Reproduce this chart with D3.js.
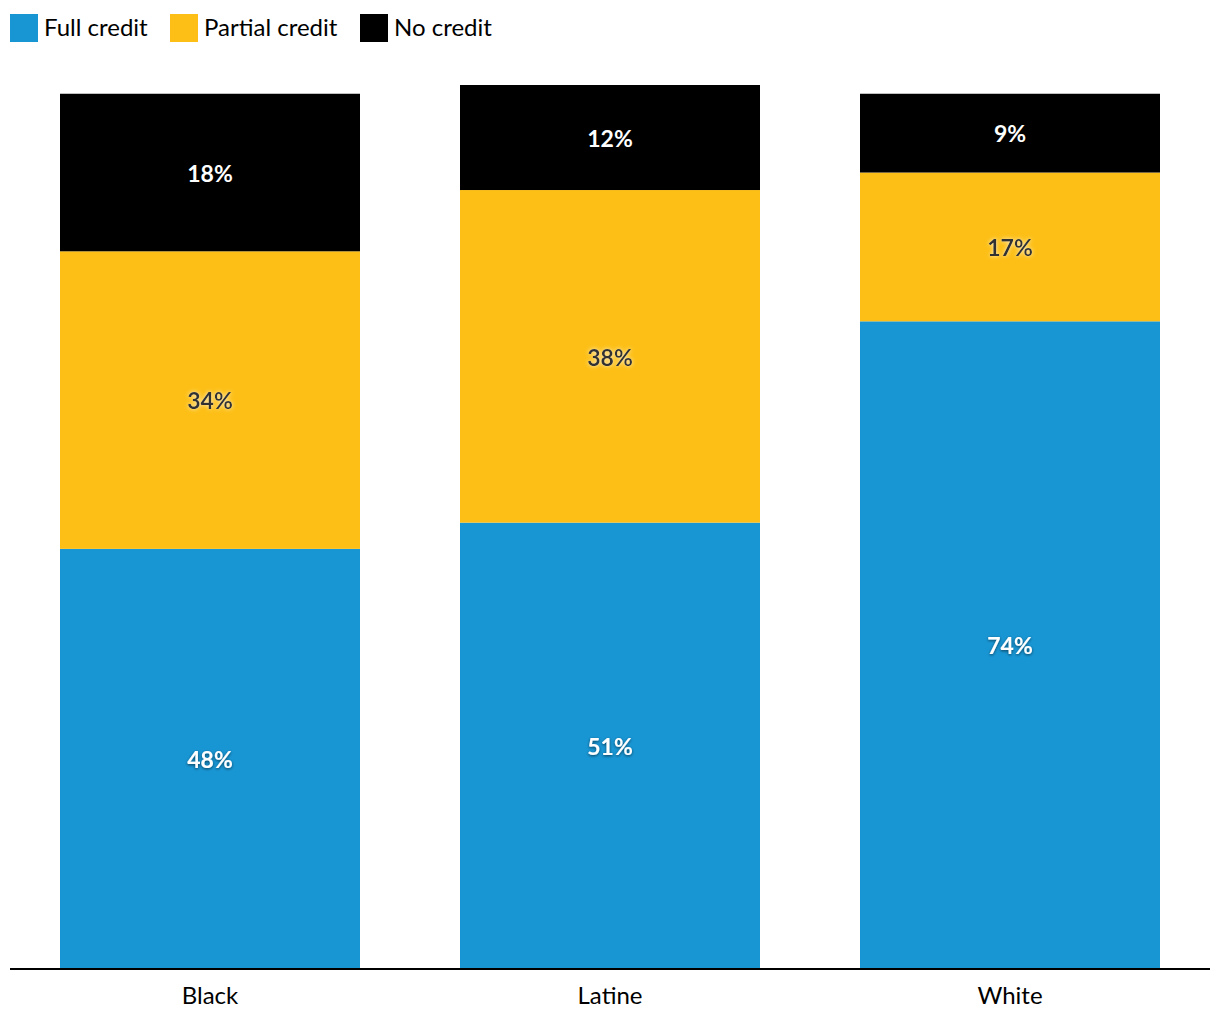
<!DOCTYPE html>
<html><head><meta charset="utf-8">
<script src="https://cdn.jsdelivr.net/npm/d3@7"></script>
<style>
body{margin:0;background:#fff;}
svg{display:block;font-family:Lato, "Open Sans", sans-serif;}
</style></head>
<body><svg id="c" width="1220" height="1020"></svg>
<script>
const categories = ["Black", "Latine", "White"];
const seriesNames = ["Full credit", "Partial credit", "No credit"];
const fullCredit = [48, 51, 74];
const partialCredit = [34, 38, 17];
const noCredit = [18, 12, 9];
const colors = ["#1896d4", "#fdbf16", "#000000"];
const labelFill = ["#ffffff", "#333333", "#ffffff"];

const svg = d3.select("#c");
const x = d3.scaleBand().domain(categories).range([10, 1210]).paddingInner(0.25).paddingOuter(0.125);
const y = d3.scaleLinear().domain([0, 101]).range([969, 85]);

const rows = categories.map((c, i) => ({cat: c, "Full credit": fullCredit[i], "Partial credit": partialCredit[i], "No credit": noCredit[i]}));
const stacked = d3.stack().keys(seriesNames)(rows);

const defs = svg.append("defs");
const f1 = defs.append("filter").attr("id", "shDark").attr("x", "-20%").attr("y", "-30%").attr("width", "140%").attr("height", "160%");
f1.append("feDropShadow").attr("dx", 0).attr("dy", 1).attr("stdDeviation", 1.5).attr("flood-color", "#000").attr("flood-opacity", 0.6);
const f2 = defs.append("filter").attr("id", "shLight").attr("x", "-20%").attr("y", "-30%").attr("width", "140%").attr("height", "160%");
f2.append("feDropShadow").attr("dx", 0).attr("dy", 0).attr("stdDeviation", 2).attr("flood-color", "#fff").attr("flood-opacity", 0.8);

stacked.forEach((s, si) => {
  const g = svg.append("g");
  g.selectAll("rect").data(s).join("rect")
    .attr("x", d => x(d.data.cat))
    .attr("width", x.bandwidth())
    .attr("y", d => y(d[1]))
    .attr("height", d => y(d[0]) - y(d[1]))
    .attr("fill", colors[si]);
  g.selectAll("text").data(s).join("text")
    .attr("x", d => x(d.data.cat) + x.bandwidth() / 2)
    .attr("y", d => (y(d[0]) + y(d[1])) / 2)
    .attr("dy", "0.4em")
    .attr("text-anchor", "middle")
    .attr("font-size", 23)
    .attr("font-weight", 700)
    .attr("fill", labelFill[si])
    .attr("filter", si === 1 ? "url(#shLight)" : (si === 0 ? "url(#shDark)" : null))
    .text(d => (d[1] - d[0]) + "%");
});

const axis = svg.append("g").attr("transform", "translate(0,969)")
  .call(d3.axisBottom(x).tickSize(0).tickPadding(18));
axis.select(".domain").attr("stroke", "#000").attr("stroke-width", 2).attr("d", "M10,0H1210");
axis.selectAll("text").attr("font-size", 24).attr("fill", "#000").attr("font-family", "Lato, sans-serif");

const legX = [10, 170, 360];
const leg = svg.append("g");
seriesNames.forEach((n, i) => {
  leg.append("rect").attr("x", legX[i]).attr("y", 14).attr("width", 28).attr("height", 28).attr("fill", colors[i]);
  leg.append("text").attr("x", legX[i] + 34).attr("y", 28).attr("dy", "0.35em")
    .attr("font-size", 24).attr("fill", "#000").text(n);
});
</script></body></html>
